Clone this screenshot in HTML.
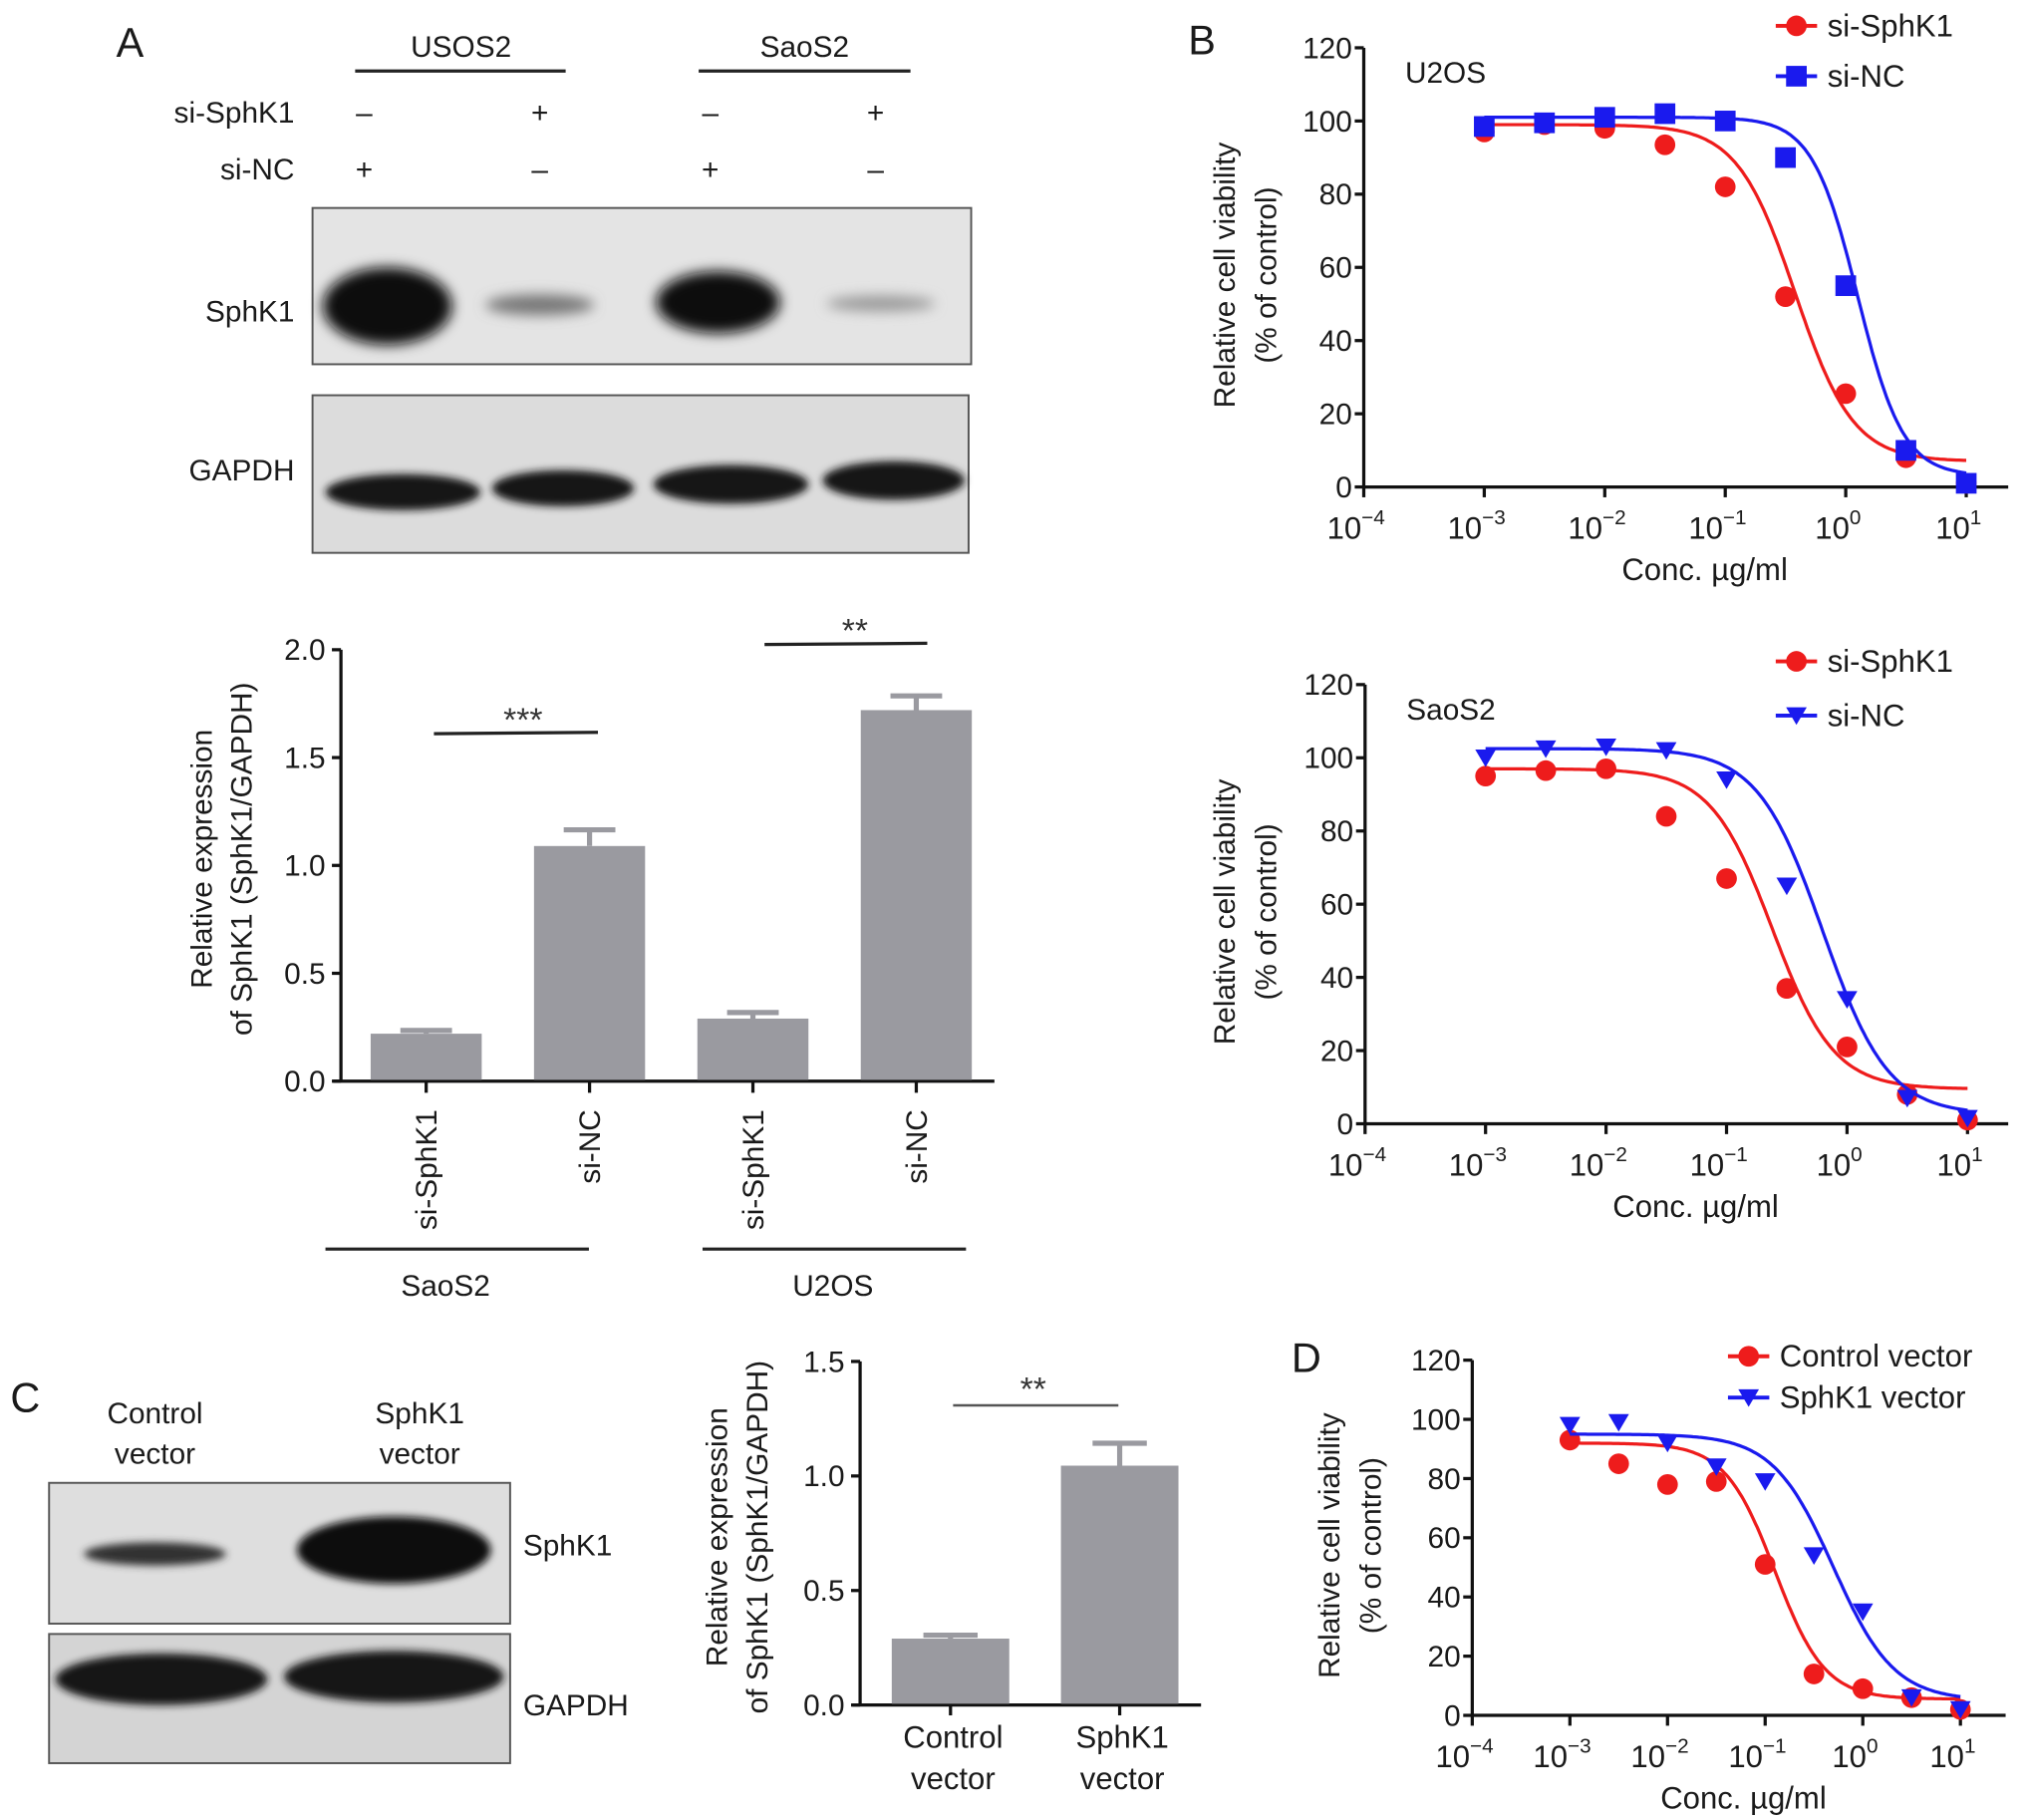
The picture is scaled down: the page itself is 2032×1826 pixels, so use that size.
<!DOCTYPE html>
<html><head><meta charset="utf-8">
<style>
html,body{margin:0;padding:0;background:#fff;}
svg{display:block;font-family:"Liberation Sans",Arial,sans-serif;}
</style></head>
<body>
<svg id="fig" xmlns="http://www.w3.org/2000/svg" width="2032" height="1826" viewBox="0 0 1568 1409" preserveAspectRatio="none">
<defs>
<filter id="blur" x="-20%" y="-50%" width="140%" height="200%"><feGaussianBlur stdDeviation="5"/></filter>
<filter id="blur2" x="-20%" y="-50%" width="140%" height="200%"><feGaussianBlur stdDeviation="3"/></filter>
</defs>
<rect width="1568" height="1409" fill="#fff"/>

<!-- Panel A blot -->
<g fill="#1a1a1a" font-size="23">
<text x="90" y="44" font-size="32">A</text>
<text x="357" y="44" text-anchor="middle">USOS2</text>
<line x1="275" y1="55" x2="438" y2="55" stroke="#222" stroke-width="2.5"/>
<text x="623" y="44" text-anchor="middle">SaoS2</text>
<line x1="541" y1="55" x2="705" y2="55" stroke="#222" stroke-width="2.5"/>
<text x="228" y="95" text-anchor="end">si-SphK1</text>
<text x="228" y="139" text-anchor="end">si-NC</text>
<text x="282" y="95" text-anchor="middle">–</text><text x="418" y="95" text-anchor="middle">+</text>
<text x="550" y="95" text-anchor="middle">–</text><text x="678" y="95" text-anchor="middle">+</text>
<text x="282" y="139" text-anchor="middle">+</text><text x="418" y="139" text-anchor="middle">–</text>
<text x="550" y="139" text-anchor="middle">+</text><text x="678" y="139" text-anchor="middle">–</text>
<text x="228" y="249" text-anchor="end">SphK1</text>
<text x="228" y="372" text-anchor="end">GAPDH</text>
<rect x="242" y="161" width="510" height="121" fill="#e4e4e4" stroke="#555" stroke-width="1.5"/>
<g filter="url(#blur)">
<ellipse cx="300" cy="237" rx="50" ry="30" fill="#111"/>
<ellipse cx="418" cy="236" rx="42" ry="8" fill="#777"/>
<ellipse cx="556" cy="234" rx="48" ry="24" fill="#111"/>
<ellipse cx="682" cy="235" rx="42" ry="6" fill="#999"/>
</g>
<rect x="242" y="306" width="508" height="122" fill="#dcdcdc" stroke="#555" stroke-width="1.5"/>
<g filter="url(#blur2)">
<ellipse cx="312" cy="381" rx="60" ry="14" fill="#151515"/>
<ellipse cx="436" cy="378" rx="55" ry="14" fill="#151515"/>
<ellipse cx="566" cy="375" rx="60" ry="15" fill="#151515"/>
<ellipse cx="692" cy="372" rx="55" ry="15" fill="#151515"/>
</g>
</g>

<!-- Panel C blot -->
<g fill="#1a1a1a" font-size="23">
<text x="8" y="1093" font-size="32">C</text>
<text x="120" y="1102" text-anchor="middle">Control</text>
<text x="120" y="1133" text-anchor="middle">vector</text>
<text x="325" y="1102" text-anchor="middle">SphK1</text>
<text x="325" y="1133" text-anchor="middle">vector</text>
<rect x="38" y="1148" width="357" height="109" fill="#dedede" stroke="#555" stroke-width="1.5"/>
<g filter="url(#blur2)">
<ellipse cx="120" cy="1203" rx="55" ry="9" fill="#333"/>
<ellipse cx="305" cy="1200" rx="75" ry="26" fill="#111"/>
</g>
<rect x="38" y="1265" width="357" height="100" fill="#d4d4d4" stroke="#555" stroke-width="1.5"/>
<g filter="url(#blur2)">
<ellipse cx="125" cy="1300" rx="82" ry="20" fill="#151515"/>
<ellipse cx="305" cy="1298" rx="85" ry="20" fill="#151515"/>
</g>
<text x="405" y="1204">SphK1</text>
<text x="405" y="1328">GAPDH</text>
</g>

<g id="charts"></g>
</svg>

<script>
// ---------- Bar chart A data ----------
const barACategories = ["si-SphK1", "si-NC", "si-SphK1", "si-NC"];
const barAValues = [0.22, 1.09, 0.29, 1.72];
const barAErrors = [0.235, 1.165, 0.318, 1.786];
const barATicks = [0.0, 0.5, 1.0, 1.5, 2.0];
const barATickLabels = ["0.0", "0.5", "1.0", "1.5", "2.0"];
// ---------- Bar chart C data ----------
const barCCategories = [["Control", "vector"], ["SphK1", "vector"]];
const barCValues = [0.29, 1.045];
const barCErrors = [0.305, 1.143];
const barCTicks = [0.0, 0.5, 1.0, 1.5];
const barCTickLabels = ["0.0", "0.5", "1.0", "1.5"];
// ---------- Dose response data (x in µg/ml) ----------
const doseConc = [0.001, 0.00316, 0.01, 0.0316, 0.1, 0.316, 1, 3.16, 10];
const u2osSiSphK1 = [97, 99, 98, 93.5, 82, 52, 25.5, 8, 1];
const u2osSiNC = [98.5, 99.5, 101, 102, 100, 90, 55, 10, 1];
const u2osSiSphK1Fit = [99, 7, -0.42, 1.8];   // top, bottom, logEC50, hill
const u2osSiNCFit = [101, 3, 0.1, 2.3];
const saosSiSphK1 = [95, 96.5, 97, 84, 67, 37, 21, 8, 1];
const saosSiNC = [100, 102.5, 103, 102, 94, 65, 34, 7, 1.5];
const saosSiSphK1Fit = [97, 9.5, -0.62, 1.7];
const saosSiNCFit = [102.5, 2.5, -0.2, 1.6];
const dControl = [93, 85, 78, 79, 51, 14, 9, 6, 2];
const dSphK1 = [98, 99, 92, 84, 79, 54, 35, 6, 2];
const dControlFit = [92, 5.5, -0.9, 1.7];
const dSphK1Fit = [95, 5, -0.3, 1.4];
const yTicks = [0, 20, 40, 60, 80, 100, 120];
const xDecades = [-4, -3, -2, -1, 0, 1];

const NS = "http://www.w3.org/2000/svg";
const root = document.getElementById("charts");
function mk(tag, attrs, parent, txt) {
  const e = document.createElementNS(NS, tag);
  for (const k in attrs) e.setAttribute(k, attrs[k]);
  if (txt !== undefined) e.textContent = txt;
  (parent || root).appendChild(e);
  return e;
}
const GRAY = "#9a9aa0";

// ---------------- Bar chart A ----------------
(function () {
  const g = mk("g", {});
  
  
  const x0 = 264, xEnd = 770, y0 = 837, yTop = 503, vmax = 2.0;
  const y = v => y0 - (v / vmax) * (y0 - yTop);
  const slot = 126.5, first = 330, bw = 86;
  const cx = i => first + i * slot;
  mk("line", {x1: x0, y1: yTop, x2: x0, y2: y0, stroke: "#111", "stroke-width": 2.5}, g);
  mk("line", {x1: 258, y1: y0, x2: xEnd, y2: y0, stroke: "#111", "stroke-width": 2.5}, g);
  barATicks.forEach((t, i) => {
    mk("line", {x1: x0 - 7, y1: y(t), x2: x0, y2: y(t), stroke: "#111", "stroke-width": 2.5}, g);
    const tl = mk("text", {x: x0 - 12, y: y(t) + 8, "text-anchor": "end", "font-size": 23, fill: "#1a1a1a"}, g, barATickLabels[i]);
    
    
  });
  barAValues.forEach((v, i) => {
    const c = cx(i);
    const eb = mk("path", {d: `M${c} ${y(v)}V${y(barAErrors[i])}M${c - 20} ${y(barAErrors[i])}H${c + 20}`, stroke: GRAY, "stroke-width": 4, fill: "none"}, g);
    
    
    const r = mk("rect", {x: c - bw / 2, y: y(v), width: bw, height: y0 - y(v) - 1, fill: GRAY}, g);
    
    
    mk("line", {x1: c, y1: y0, x2: c, y2: y0 + 9, stroke: "#111", "stroke-width": 2.5}, g);
    const t = mk("text", {x: 0, y: 0, "text-anchor": "end", "font-size": 23, fill: "#1a1a1a",
      transform: `translate(${c + 8},${y0 + 22}) rotate(-90)`}, g, barACategories[i]);
    
    
  });
  mk("line", {x1: 336, y1: 568, x2: 463, y2: 567, stroke: "#222", "stroke-width": 2.5}, g);
  mk("text", {x: 405, y: 566, "text-anchor": "middle", "font-size": 26, fill: "#333"}, g, "***");
  mk("line", {x1: 592, y1: 499, x2: 718, y2: 498, stroke: "#222", "stroke-width": 2.5}, g);
  mk("text", {x: 662, y: 497, "text-anchor": "middle", "font-size": 26, fill: "#333"}, g, "**");
  mk("line", {x1: 252, y1: 967, x2: 456, y2: 967, stroke: "#222", "stroke-width": 2.5}, g);
  mk("line", {x1: 544, y1: 967, x2: 748, y2: 967, stroke: "#222", "stroke-width": 2.5}, g);
  mk("text", {x: 345, y: 1003, "text-anchor": "middle", "font-size": 23, fill: "#1a1a1a"}, g, "SaoS2");
  mk("text", {x: 645, y: 1003, "text-anchor": "middle", "font-size": 23, fill: "#1a1a1a"}, g, "U2OS");
  const yt = mk("text", {x: 0, y: 0, "text-anchor": "middle", "font-size": 23, fill: "#1a1a1a", transform: "translate(164,665) rotate(-90)"}, g);
  
  
  mk("tspan", {x: 0, dy: 0}, yt, "Relative expression");
  mk("tspan", {x: 0, dy: 31}, yt, "of SphK1 (SphK1/GAPDH)");
})();

// ---------------- Bar chart C ----------------
(function () {
  const g = mk("g", {});
  
  
  const x0 = 666, xEnd = 930, y0 = 1320, yTop = 1054, vmax = 1.5;
  const y = v => y0 - (v / vmax) * (y0 - yTop);
  const cxs = i => 736 + i * 131, bw = 91;
  mk("line", {x1: x0, y1: yTop, x2: x0, y2: y0, stroke: "#111", "stroke-width": 2.5}, g);
  mk("line", {x1: 660, y1: y0, x2: xEnd, y2: y0, stroke: "#111", "stroke-width": 2.5}, g);
  barCTicks.forEach((t, i) => {
    mk("line", {x1: x0 - 7, y1: y(t), x2: x0, y2: y(t), stroke: "#111", "stroke-width": 2.5}, g);
    const tl = mk("text", {x: x0 - 12, y: y(t) + 8, "text-anchor": "end", "font-size": 23, fill: "#1a1a1a"}, g, barCTickLabels[i]);
    
    
  });
  barCValues.forEach((v, i) => {
    const c = cxs(i);
    const eb = mk("path", {d: `M${c} ${y(v)}V${y(barCErrors[i])}M${c - 21} ${y(barCErrors[i])}H${c + 21}`, stroke: GRAY, "stroke-width": 4, fill: "none"}, g);
    
    
    const r = mk("rect", {x: c - bw / 2, y: y(v), width: bw, height: y0 - y(v) - 1, fill: GRAY}, g);
    
    
    mk("line", {x1: c, y1: y0, x2: c, y2: y0 + 8, stroke: "#111", "stroke-width": 2.5}, g);
    mk("text", {x: c + 2, y: 1353, "text-anchor": "middle", "font-size": 24, fill: "#1a1a1a"}, g, barCCategories[i][0]);
    mk("text", {x: c + 2, y: 1385, "text-anchor": "middle", "font-size": 24, fill: "#1a1a1a"}, g, barCCategories[i][1]);
  });
  mk("line", {x1: 738, y1: 1088, x2: 866, y2: 1088, stroke: "#555", "stroke-width": 2}, g);
  mk("text", {x: 800, y: 1084, "text-anchor": "middle", "font-size": 26, fill: "#333"}, g, "**");
  const yt = mk("text", {x: 0, y: 0, "text-anchor": "middle", "font-size": 23, fill: "#1a1a1a", transform: "translate(563,1190) rotate(-90)"}, g);
  
  
  mk("tspan", {x: 0, dy: 0}, yt, "Relative expression");
  mk("tspan", {x: 0, dy: 31}, yt, "of SphK1 (SphK1/GAPDH)");
})();

// ---------------- Dose response charts ----------------
function doseChart(o) {
  const g = mk("g", {});
  
  
  const xs = lg => o.x0 + (lg + 4) * o.dec;
  const ys = v => o.y0 - v / 120 * (o.y0 - o.yTop);
  mk("line", {x1: o.x0, y1: o.yTop, x2: o.x0, y2: o.y0, stroke: "#111", "stroke-width": 2.5}, g);
  mk("line", {x1: o.x0, y1: o.y0, x2: o.xEnd, y2: o.y0, stroke: "#111", "stroke-width": 2.5}, g);
  yTicks.forEach(t => {
    mk("line", {x1: o.x0 - 7, y1: ys(t), x2: o.x0, y2: ys(t), stroke: "#111", "stroke-width": 2.5}, g);
    const tl = mk("text", {x: o.x0 - 9, y: ys(t) + 8, "text-anchor": "end", "font-size": 23, fill: "#1a1a1a"}, g, String(t));
    
    
  });
  xDecades.forEach(d => {
    mk("line", {x1: xs(d), y1: o.y0, x2: xs(d), y2: o.y0 + 8, stroke: "#111", "stroke-width": 2.5}, g);
    const tl = mk("text", {x: xs(d) - 6, y: o.y0 + 40, "text-anchor": "middle", "font-size": 24, fill: "#1a1a1a"}, g, "10");
    
    
    mk("tspan", {dy: -11, "font-size": 16}, tl, d < 0 ? "\u2212" + (-d) : String(d));
  });
  const xt = mk("text", {x: o.xTitle, y: o.y0 + 72, "text-anchor": "middle", "font-size": 24, fill: "#1a1a1a"}, g, "Conc. \u00b5g/ml");
  
  
  const yt = mk("text", {x: 0, y: 0, "text-anchor": "middle", "font-size": 23, fill: "#1a1a1a", transform: `translate(${o.yTitleX},${(o.y0 + o.yTop) / 2 + 6}) rotate(-90)`}, g);
  
  
  mk("tspan", {x: 0, dy: 0}, yt, "Relative cell viability");
  mk("tspan", {x: 0, dy: 32}, yt, "(% of control)");
  if (o.label) mk("text", {x: o.x0 + 32, y: o.yTop + 27, "font-size": 23, fill: "#1a1a1a"}, g, o.label);

  o.series.forEach((s, si) => {
    const [top, bot, lec, hill] = s.fit;
    let d = "";
    for (let lg = -3; lg <= 1.0001; lg += 0.02) {
      const v = bot + (top - bot) / (1 + Math.pow(10, (lg - lec) * hill));
      d += (d ? "L" : "M") + xs(lg).toFixed(1) + " " + ys(v).toFixed(1);
    }
    const p = mk("path", {d: d, stroke: s.color, "stroke-width": 2.5, fill: "none"}, g);
    
    
    s.data.forEach((v, i) => {
      const px = xs(Math.log10(doseConc[i])), py = ys(v);
      const m = marker(s.shape, px, py, s.color, 8, g);
      
      
    });
    const ly = o.legY + si * o.legGap;
    const lgG = mk("g", {}, g);
    
    
    mk("line", {x1: o.legX, y1: ly, x2: o.legX + 32, y2: ly, stroke: s.color, "stroke-width": 3}, lgG);
    marker(s.shape, o.legX + 16, ly, s.color, 8, lgG);
    mk("text", {x: o.legX + 40, y: ly + 8, "font-size": 24, fill: "#1a1a1a"}, lgG, s.name);
  });
}
function marker(shape, x, y, color, r, parent) {
  if (shape === "circle") return mk("circle", {cx: x, cy: y, r: r, fill: color}, parent);
  if (shape === "square") return mk("rect", {x: x - r, y: y - r, width: 2 * r, height: 2 * r, fill: color}, parent);
  return mk("path", {d: `M${x - r} ${y - r * 0.8}H${x + r}L${x} ${y + r * 0.9}Z`, fill: color}, parent);
}
const RED = "#ee1c1c", BLUE = "#1a1aee";
doseChart({name: "chart-b-u2os", x0: 1056, dec: 93.3, xEnd: 1555, y0: 377, yTop: 37, xTitle: 1320, yTitleX: 956, label: "U2OS",
  legX: 1375, legY: 20, legGap: 39,
  series: [
    {key: "si-sphk1", name: "si-SphK1", color: RED, shape: "circle", data: u2osSiSphK1, fit: u2osSiSphK1Fit},
    {key: "si-nc", name: "si-NC", color: BLUE, shape: "square", data: u2osSiNC, fit: u2osSiNCFit}]});
doseChart({name: "chart-b-saos2", x0: 1057, dec: 93.3, xEnd: 1555, y0: 870, yTop: 530, xTitle: 1313, yTitleX: 956, label: "SaoS2",
  legX: 1375, legY: 512, legGap: 42,
  series: [
    {key: "si-sphk1", name: "si-SphK1", color: RED, shape: "circle", data: saosSiSphK1, fit: saosSiSphK1Fit},
    {key: "si-nc", name: "si-NC", color: BLUE, shape: "triangle", data: saosSiNC, fit: saosSiNCFit}]});
doseChart({name: "chart-d", x0: 1140, dec: 75.6, xEnd: 1553, y0: 1328, yTop: 1053, xTitle: 1350, yTitleX: 1037, label: null,
  legX: 1338, legY: 1050, legGap: 32,
  series: [
    {key: "control-vector", name: "Control vector", color: RED, shape: "circle", data: dControl, fit: dControlFit},
    {key: "sphk1-vector", name: "SphK1 vector", color: BLUE, shape: "triangle", data: dSphK1, fit: dSphK1Fit}]});
mk("text", {x: 920, y: 42, "font-size": 32, fill: "#1a1a1a"}, root, "B");
mk("text", {x: 1000, y: 1062, "font-size": 32, fill: "#1a1a1a"}, root, "D");
</script>
</body></html>
